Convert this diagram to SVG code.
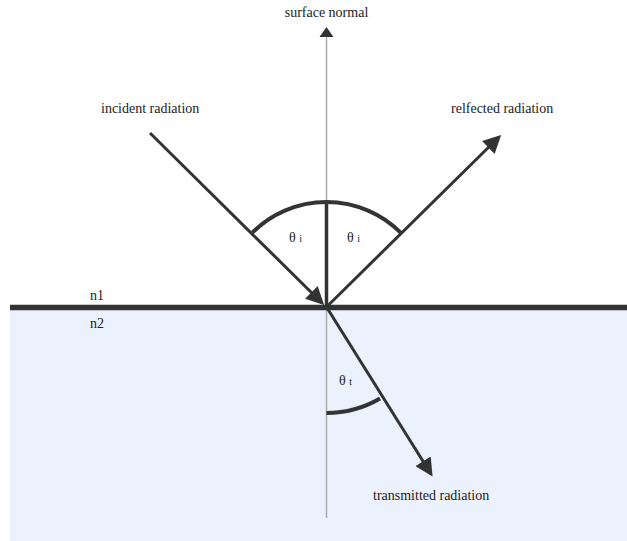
<svg xmlns="http://www.w3.org/2000/svg" width="627" height="541" viewBox="0 0 627 541">
<defs>
<style>
.t{font-family:'Liberation Serif','Times New Roman',serif;font-size:14px;fill:#222}
.ray{stroke:#333;stroke-width:3;fill:none}
.arc{stroke:#333;stroke-width:4;fill:none}
.sub{font-size:10px}
</style>
<marker id="ah" markerWidth="6" markerHeight="6" refX="5" refY="3" orient="auto" markerUnits="strokeWidth">
<path d="M0,0 L6,3 L0,6 z" fill="#333"/>
</marker>
</defs>
<rect width="627" height="541" fill="#fff"/>
<g id="medium2"><rect x="10" y="309" width="617" height="232" fill="#ecf2fd"/></g>
<g id="normal">
<line x1="326.5" y1="36" x2="326.5" y2="518" stroke="#aaa" stroke-width="1.5"/>
<path d="M326.5,27 L333.5,37 L319.5,37 z" fill="#333"/>
<text class="t" font-family="Liberation Serif, serif" x="326.5" y="17" text-anchor="middle">surface normal</text>
</g>
<g id="interface">
<line x1="10" y1="307.5" x2="627" y2="307.5" stroke="#333" stroke-width="5.5"/>
<text class="t" font-family="Liberation Serif, serif" x="90" y="300">n1</text>
<text class="t" font-family="Liberation Serif, serif" x="90" y="328">n2</text>
</g>
<g id="angles">
<line x1="326.5" y1="203" x2="326.5" y2="307" stroke="#333" stroke-width="3.5"/>
<path class="arc" d="M252.3,232.7 A105,105 0 0 1 400.7,232.7"/>
<path class="arc" d="M326.5,413 A106,106 0 0 0 380,398.5"/>
<text class="t" font-family="Liberation Serif, serif" x="289" y="242">θ <tspan class="sub">i</tspan></text>
<text class="t" font-family="Liberation Serif, serif" x="347" y="242">θ <tspan class="sub">i</tspan></text>
<text class="t" font-family="Liberation Serif, serif" x="339" y="385">θ <tspan class="sub">t</tspan></text>
</g>
<g id="connectors">
<line class="ray" x1="150" y1="133" x2="322" y2="303" marker-end="url(#ah)"/>
<line class="ray" x1="326.5" y1="307" x2="499" y2="137" marker-end="url(#ah)"/>
<line class="ray" x1="326.5" y1="307" x2="431" y2="474" marker-end="url(#ah)"/>
</g>
<g id="labels">
<text class="t" font-family="Liberation Serif, serif" x="101" y="113">incident radiation</text>
<text class="t" font-family="Liberation Serif, serif" x="451" y="113">relfected radiation</text>
<text class="t" font-family="Liberation Serif, serif" x="373" y="500">transmitted radiation</text>
</g>
</svg>
